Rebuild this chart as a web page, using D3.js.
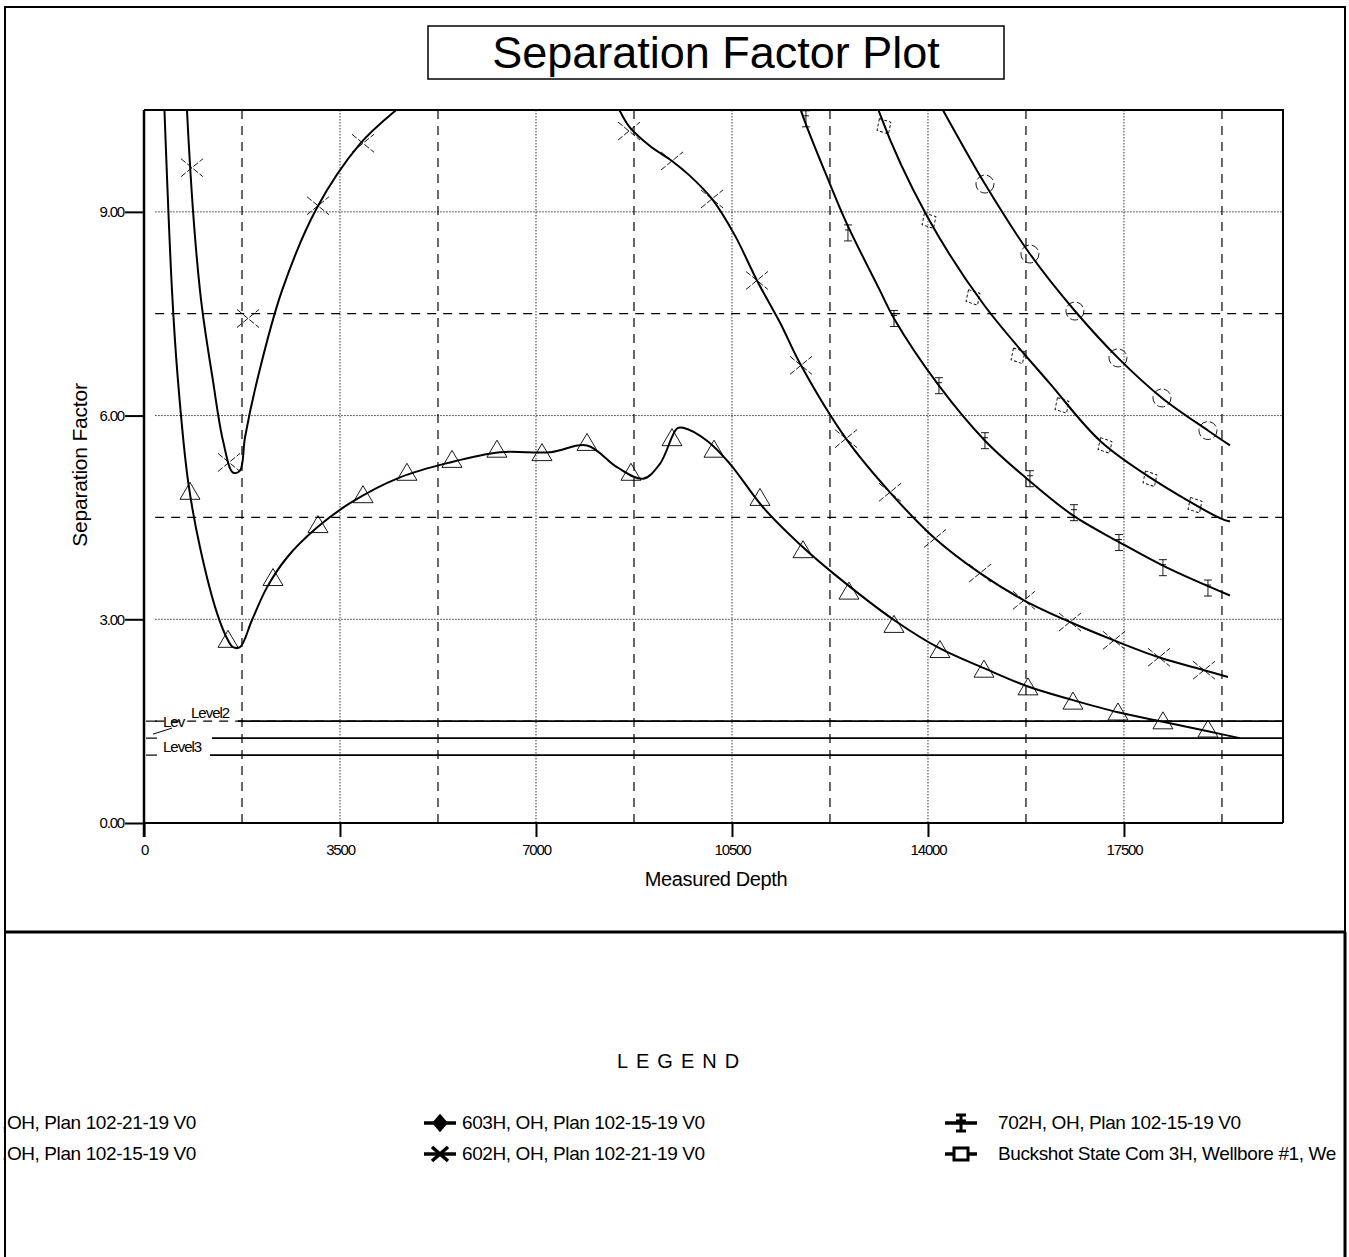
<!DOCTYPE html>
<html>
<head>
<meta charset="utf-8">
<script src="https://cdn.jsdelivr.net/npm/d3@7"></script>
<style>
  body { margin: 0; background: #fff; }
  text { font-family: "Liberation Sans", Arial, sans-serif; fill: #000; }
</style>
</head>
<body>
<div id="chart"></div>
<script>
// Separation factor curves: [measured depth, separation factor]
var triangleLine = [[321,11.5],[500,7.84],[607,6.51],[786,5.04],[1000,4.06],[1304,3.09],[1500,2.69],[1589,2.59],[1714,2.59],[1929,2.99],[2196,3.47],[2554,3.91],[3089,4.35],[3679,4.71],[4571,5.09],[5464,5.31],[6357,5.46],[7250,5.46],[7911,5.56],[8446,5.24],[8911,5.07],[9214,5.29],[9518,5.81],[9625,5.82],[10054,5.63],[10464,5.29],[11054,4.65],[11768,4.06],[12304,3.68],[13393,2.99],[14214,2.57],[15000,2.28],[15786,2.01],[16589,1.81],[17393,1.63],[18196,1.49],[19000,1.35],[19571,1.25]];
var triangleMarks = [[821,4.87],[1500,2.69],[2304,3.60],[3107,4.38],[3911,4.82],[4696,5.15],[5500,5.34],[6303,5.49],[7107,5.44],[7911,5.59],[8696,5.15],[9429,5.66],[10179,5.49],[11000,4.78],[11768,4.01],[12589,3.40],[13393,2.91],[14214,2.54],[15000,2.25],[15786,1.99],[16589,1.78],[17393,1.62],[18196,1.49],[19000,1.37]];

var crossLineA = [[732,11.5],[768,10.49],[1000,7.84],[1232,6.51],[1411,5.63],[1589,5.16],[1714,5.19],[1804,5.68],[2018,6.51],[2464,7.84],[3089,9.06],[3857,10.0],[4446,10.46],[4929,10.75]];
var crossLineB = [[8200,11.0],[8411,10.63],[8661,10.26],[9036,9.97],[9429,9.75],[9750,9.53],[10143,9.19],[10554,8.65],[10946,7.99],[11357,7.37],[11732,6.74],[12536,5.66],[13321,4.87],[14125,4.19],[14929,3.68],[15714,3.28],[16536,2.96],[17321,2.69],[18125,2.44],[18929,2.25],[19357,2.15]];
var crossMarks = [[857,9.65],[1518,5.31],[1857,7.43],[3107,9.09],[3911,10.01],[8661,10.19],[9429,9.75],[10143,9.19],[10946,7.99],[11732,6.74],[12536,5.66],[13321,4.87],[14125,4.19],[14929,3.68],[15714,3.28],[16536,2.96],[17321,2.69],[18125,2.44],[18929,2.25]];

var ibeamLine = [[11536,11.07],[11732,10.49],[12250,9.41],[12554,8.82],[13143,7.84],[13393,7.43],[14196,6.44],[15018,5.63],[15768,5.07],[16589,4.53],[17429,4.13],[18268,3.76],[19393,3.35]];
var ibeamMarks = [[11821,10.37],[12571,8.69],[13393,7.43],[14196,6.44],[15018,5.63],[15821,5.07],[16607,4.57],[17411,4.13],[18196,3.76],[19000,3.46]];

var diamondLine = [[12875,11.22],[13143,10.44],[13982,8.94],[14982,7.65],[16179,6.47],[17071,5.63],[17964,5.09],[19214,4.49],[19393,4.44]];
var diamondMarks = [[13214,10.26],[14018,8.87],[14804,7.74],[15607,6.88],[16393,6.15],[17161,5.56],[17964,5.07],[18768,4.68]];

var circleLine = [[13800,11.2],[14300,10.45],[15018,9.41],[15821,8.38],[16625,7.54],[17393,6.85],[18179,6.26],[19000,5.78],[19393,5.56]];
var circleMarks = [[15018,9.41],[15821,8.38],[16625,7.54],[17393,6.85],[18179,6.26],[19000,5.78]];

// Separation factor warning levels: [label, level, start depth]
var levels = [["Level2", 1.5, 1679], ["Lev", 1.25, 1214], ["Level3", 1.0, 1179]];

var xTicks = [0, 3500, 7000, 10500, 14000, 17500];
var yTicks = [0, 3, 6, 9];

var legendRows = [
    [",OH, Plan 102-21-19 V0", "603H, OH, Plan 102-15-19 V0", "702H, OH, Plan 102-15-19 V0"],
    [",OH, Plan 102-15-19 V0", "602H, OH, Plan 102-21-19 V0", "Buckshot State Com 3H, Wellbore #1, We"]
];
var legendIcons = [[null, "diamond", "ibeam"], [null, "cross", "square"]];

var svgWidth = 1349, svgHeight = 1257;
var svg = d3.select("#chart").append("svg")
    .attr("width", svgWidth)
    .attr("height", svgHeight);

// page frame
svg.append("rect").attr("x", 5).attr("y", 7).attr("width", 1340).attr("height", 1262)
    .attr("fill", "none").attr("stroke", "#000").attr("stroke-width", 2);
svg.append("line").attr("x1", 5).attr("x2", 1345).attr("y1", 932).attr("y2", 932)
    .attr("stroke", "#000").attr("stroke-width", 3);
svg.append("line").attr("x1", 1345).attr("x2", 1345).attr("y1", 932).attr("y2", 1257)
    .attr("stroke", "#000").attr("stroke-width", 3);

// title box
svg.append("rect").attr("x", 428).attr("y", 26).attr("width", 576).attr("height", 53)
    .attr("fill", "none").attr("stroke", "#000").attr("stroke-width", 1.5);
svg.append("text").attr("x", 716).attr("y", 68).attr("text-anchor", "middle")
    .style("font-size", "45px").text("Separation Factor Plot");

var x = d3.scaleLinear().domain([0, 20340]).range([144, 1283]);
var y = d3.scaleLinear().domain([0, 10.5]).range([823, 110]);

// grid
var vGrid = d3.range(1750, 20340, 1750);
svg.append("g").selectAll("line").data(vGrid).enter().append("line")
    .attr("x1", d => x(d)).attr("x2", d => x(d))
    .attr("y1", y(10.5)).attr("y2", y(0))
    .attr("stroke", "#000")
    .attr("stroke-width", d => d % 3500 === 0 ? 0.8 : 1.2)
    .attr("stroke-dasharray", d => d % 3500 === 0 ? "1.5,1.5" : "9,7");

var hGrid = [1.5, 3, 4.5, 6, 7.5, 9];
svg.append("g").selectAll("line").data(hGrid).enter().append("line")
    .attr("x1", x(200)).attr("x2", x(20340))
    .attr("y1", d => y(d)).attr("y2", d => y(d))
    .attr("stroke", "#000")
    .attr("stroke-width", d => d % 3 === 0 ? 0.8 : 1.2)
    .attr("stroke-dasharray", d => d % 3 === 0 ? "1.5,1.5" : "9,7");

// plot border
svg.append("path")
    .attr("d", `M${x(0)},${y(10.5)}H${x(20340)}V${y(0)}`)
    .attr("fill", "none").attr("stroke", "#000").attr("stroke-width", 2);

// axes
var bottomAxis = d3.axisBottom(x).tickValues(xTicks).tickSize(14).tickPadding(7).tickFormat(d3.format("d"));
var leftAxis = d3.axisLeft(y).tickValues(yTicks).tickSize(19).tickPadding(1).tickFormat(d3.format(".2f"));

var xAxisG = svg.append("g").attr("transform", `translate(0,${y(0)})`).call(bottomAxis);
var yAxisG = svg.append("g").attr("transform", `translate(${x(0)},0)`).call(leftAxis);
[xAxisG, yAxisG].forEach(function(g) {
    g.select(".domain").attr("stroke-width", 2);
    g.selectAll(".tick line").attr("stroke-width", 2);
    g.selectAll("text").attr("fill", "#000")
        .style("font-family", "'Liberation Sans', Arial, sans-serif")
        .style("font-size", "15px").style("letter-spacing", "-1.2px");
});
xAxisG.select(".domain").remove();
xAxisG.append("line").attr("x1", x(0)).attr("x2", x(20340)).attr("stroke", "#000").attr("stroke-width", 2);
yAxisG.select(".domain").remove();
yAxisG.append("line").attr("y1", y(10.5)).attr("y2", y(0) + 14).attr("stroke", "#000").attr("stroke-width", 2.5);

svg.append("text").attr("x", 716).attr("y", 886).attr("text-anchor", "middle")
    .style("font-size", "20px").style("letter-spacing", "-0.4px").text("Measured Depth");
svg.append("text").attr("transform", "translate(87,465) rotate(-90)").attr("text-anchor", "middle")
    .style("font-size", "21px").style("letter-spacing", "-0.2px").text("Separation Factor");

// level lines
var levelG = svg.append("g");
levelG.selectAll("line.level").data(levels).enter().append("line")
    .attr("class", "level")
    .attr("x1", d => x(d[2])).attr("x2", x(20340))
    .attr("y1", d => y(d[1])).attr("y2", d => y(d[1]))
    .attr("stroke", "#000").attr("stroke-width", 1.6);
levelG.selectAll("line.stub").data(levels).enter().append("line")
    .attr("class", "stub")
    .attr("x1", x(0) + 2).attr("x2", x(0) + 13)
    .attr("y1", d => y(d[1])).attr("y2", d => y(d[1]))
    .attr("stroke", "#000").attr("stroke-width", 1.2);
levelG.append("line")
    .attr("x1", x(0) + 9).attr("y1", y(1.25) - 4)
    .attr("x2", x(0) + 28).attr("y2", y(1.25) - 10)
    .attr("stroke", "#000").attr("stroke-width", 1);
var lvlText = function(t, dx, lv, dy) {
    levelG.append("text").attr("x", x(0) + dx).attr("y", y(lv) + dy)
        .style("font-size", "15px").style("letter-spacing", "-1px").text(t);
};
lvlText(levels[1][0], 19, 1.5, 6);
lvlText(levels[0][0], 47, 1.5, -3);
lvlText(levels[2][0], 19, 1.0, -3);

// curves
svg.append("clipPath").attr("id", "plotClip").append("rect")
    .attr("x", x(0)).attr("y", y(10.5)).attr("width", x(20340) - x(0)).attr("height", y(0) - y(10.5));

var line = d3.line().x(d => x(d[0])).y(d => y(d[1])).curve(d3.curveCatmullRom.alpha(0.5));
var plot = svg.append("g").attr("clip-path", "url(#plotClip)");

[triangleLine, crossLineA, crossLineB, ibeamLine, diamondLine, circleLine].forEach(function(pts) {
    plot.append("path").datum(pts).attr("d", line)
        .attr("fill", "none").attr("stroke", "#000").attr("stroke-width", 2);
});

// markers (thin dashed outlines, as on the scan)
var markStyle = function(sel) {
    return sel.attr("fill", "none").attr("stroke", "#000").attr("stroke-width", 0.9);
};
markStyle(plot.append("g").selectAll("path").data(triangleMarks).enter().append("path")
    .attr("transform", d => `translate(${x(d[0])},${y(d[1])})`)
    .attr("d", "M0,-10L10,7L-10,7Z"));
markStyle(plot.append("g").selectAll("path").data(crossMarks).enter().append("path")
    .attr("transform", d => `translate(${x(d[0])},${y(d[1])})`)
    .attr("d", "M-11,-9L11,9M-11,9L11,-9")
    .attr("stroke-dasharray", "6,2"));
markStyle(plot.append("g").selectAll("path").data(ibeamMarks).enter().append("path")
    .attr("transform", d => `translate(${x(d[0])},${y(d[1])})`)
    .attr("d", "M0,-8V8M-4,-8H4M-4,8H4M-3,-3H3"));
markStyle(plot.append("g").selectAll("path").data(diamondMarks).enter().append("path")
    .attr("transform", d => `translate(${x(d[0])},${y(d[1])}) rotate(-30)`)
    .attr("d", "M0,-9L8,0L0,9L-8,0Z")
    .attr("stroke-dasharray", "3,2"));
markStyle(plot.append("g").selectAll("circle").data(circleMarks).enter().append("circle")
    .attr("cx", d => x(d[0])).attr("cy", d => y(d[1])).attr("r", 9)
    .attr("stroke-dasharray", "8,3"));

// legend
var legend = svg.append("g");
legend.append("text").attr("x", 682).attr("y", 1068).attr("text-anchor", "middle")
    .style("font-size", "20px").style("letter-spacing", "8px").text("LEGEND");

var colX = [0, 462, 998];
var iconX = [null, 440, 961];
var rowY = [1129, 1160];
var iconPath = {
    diamond: "M0,-7L6,0L0,7L-6,0Z",
    cross: "M-8,-7L8,7M-8,7L8,-7",
    ibeam: "M0,-8V8M-5,-8H5M-5,8H5M-5,-2H5",
    square: "M-7,-6H7V6H-7Z"
};
legendRows.forEach(function(row, r) {
    row.forEach(function(label, c) {
        var icon = legendIcons[r][c];
        if (icon) {
            var cx = iconX[c];
            legend.append("line").attr("x1", cx - 16).attr("x2", cx + 16)
                .attr("y1", rowY[r] - 6).attr("y2", rowY[r] - 6)
                .attr("stroke", "#000").attr("stroke-width", 3.5);
            legend.append("path").attr("transform", `translate(${cx},${rowY[r] - 6})`)
                .attr("d", iconPath[icon])
                .attr("fill", icon === "diamond" ? "#000" : "#fff")
                .attr("stroke", "#000").attr("stroke-width", icon === "cross" ? 3.5 : 3);
        }
        legend.append("text").attr("x", colX[c] + (c === 0 ? 2 : 0)).attr("y", rowY[r])
            .style("font-size", "19px").style("letter-spacing", "-0.4px").text(label);
    });
});
</script>
</body>
</html>
